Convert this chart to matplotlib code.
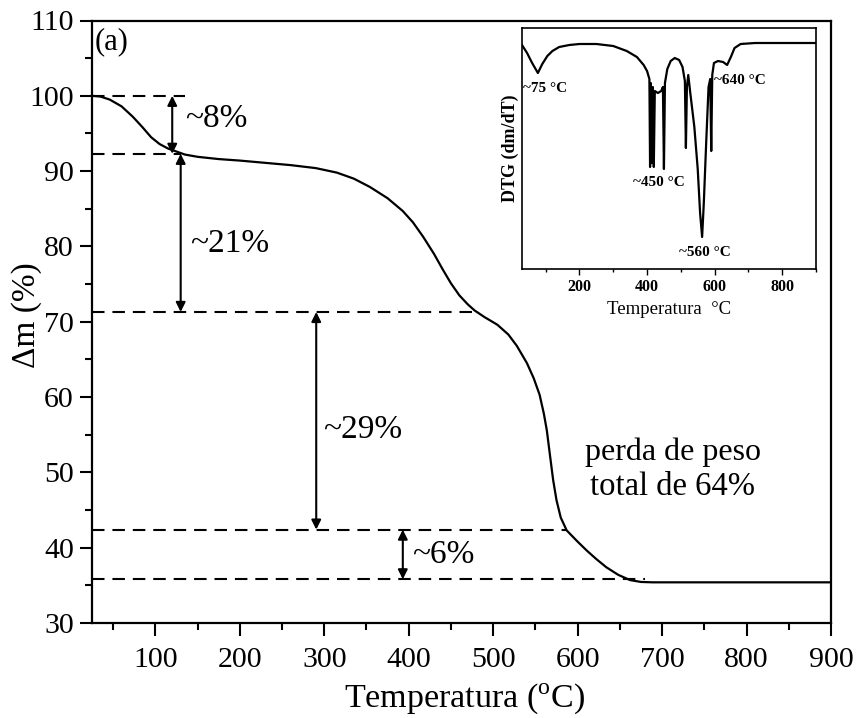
import matplotlib
matplotlib.use("Agg")
import matplotlib.pyplot as plt
from matplotlib.ticker import MultipleLocator

plt.rcParams['font.family'] = ['Liberation Serif', 'DejaVu Serif']
plt.rcParams['mathtext.fontset'] = 'custom'
plt.rcParams['mathtext.rm'] = 'Liberation Serif'

# Main TG curve (Temperature in °C, mass %)
tg_temp = [25, 35, 46, 60, 73.5, 85, 95, 105, 115, 125, 135, 150, 175, 200, 230, 260, 290, 315,
           335, 354, 375, 393, 405, 417, 430, 440, 450, 460, 470, 478, 490, 505, 518, 528,
           540, 548, 555, 560, 563.5, 567, 571, 575, 580, 587, 600, 611, 622, 634, 648, 662,
           675, 689, 750, 800, 900]
tg_mass = [100, 99.9, 99.5, 98.6, 97.2, 95.8, 94.5, 93.6, 93.0, 92.6, 92.2, 91.9, 91.6, 91.4,
           91.1, 90.8, 90.4, 89.8, 89.0, 87.9, 86.4, 84.7, 83.2, 81.3, 79.0, 77.0, 75.1, 73.5,
           72.3, 71.5, 70.6, 69.6, 68.3, 66.8, 64.5, 62.5, 60.3, 57.8, 55.6, 52.5, 49.0, 46.3,
           44.0, 42.3, 40.8, 39.6, 38.5, 37.4, 36.4, 35.7, 35.45, 35.4, 35.4, 35.4, 35.4]

# Dashed reference levels and where each dashed line ends
levels = [100.0, 92.3, 71.3, 42.4, 35.8]
level_ends = [135, 130, 481, 587, 680]

# Double arrows
arrow_x = [120, 130, 290.5, 393]
arrow_top = [100.0, 92.3, 71.3, 42.4]
arrow_bot = [92.3, 71.3, 42.4, 35.8]
arrow_labels = ['~8%', '~21%', '~29%', '~6%']
label_x = [135, 141, 298, 403.5]
label_y = [95.9, 79.3, 54.6, 38.0]

# Inset DTG curve (arbitrary units)
dtg_temp = [30, 45, 60, 77, 90, 105, 120, 140, 170, 200, 250, 300, 340, 370, 390, 400, 407,
            409, 411, 414, 417, 420, 423, 432, 442, 447, 450, 453, 460, 470, 482, 495, 505,
            512, 515, 518, 522, 528, 540, 550, 557, 563, 568, 575, 582, 587, 590, 593, 598,
            610, 625, 637, 648, 659, 677, 720, 800, 900]
dtg_val = [-0.1, -0.5, -1.0, -1.5, -1.05, -0.65, -0.4, -0.2, -0.1, -0.05, -0.05, -0.15, -0.4,
           -0.7, -1.1, -1.4, -1.8, -6.2, -2.0, -6.0, -2.2, -6.2, -2.4, -2.5, -2.4, -2.2, -6.3,
           -2.0, -1.3, -0.9, -0.75, -0.85, -1.2, -1.9, -5.25, -2.2, -1.6, -2.5, -4.2, -6.3,
           -8.5, -9.7, -8.0, -5.0, -2.2, -1.8, -5.4, -1.6, -1.0, -0.9, -0.95, -1.1, -0.7,
           -0.25, -0.05, 0.0, 0.0, 0.0]
peak_labels = ['~75 °C', '~450 °C', '~560 °C', '~640 °C']
peak_x = [33, 436, 570, 599]
peak_y = [-2.25, -6.95, -10.5, -1.85]
peak_ha = ['left', 'center', 'center', 'left']

W, H = 858, 718
fig = plt.figure(figsize=(W / 100, H / 100), dpi=100)
ax = fig.add_axes([92 / W, 1 - 623 / H, (831 - 92) / W, (623 - 20.5) / H])

ax.plot(tg_temp, tg_mass, color='black', lw=1.6, zorder=3)

for lev, xe in zip(levels, level_ends):
    ax.plot([25, xe], [lev, lev], color='black', lw=1.5, dashes=(6, 3.8), zorder=2)

for x, yt, yb in zip(arrow_x, arrow_top, arrow_bot):
    ax.annotate('', xy=(x, yb), xytext=(x, yt),
                arrowprops=dict(arrowstyle='<|-|>', color='black', lw=1.5,
                                mutation_scale=14, shrinkA=0, shrinkB=0))
for t, lx, ly in zip(arrow_labels, label_x, label_y):
    ax.text(lx, ly, t, fontsize=24, va='baseline', ha='left')

ax.text(712.6, 51.66, 'perda de peso', fontsize=23, ha='center', va='baseline')
ax.text(712.6, 47.0, 'total de 64%', fontsize=23.5, ha='center', va='baseline')
ax.text(28.6, 106.2, '(a)', fontsize=22, ha='left', va='baseline')

ax.set_xlim(25, 900)
ax.set_ylim(30, 110)
ax.xaxis.set_major_locator(MultipleLocator(100))
ax.xaxis.set_minor_locator(MultipleLocator(50))
ax.yaxis.set_major_locator(MultipleLocator(10))
ax.yaxis.set_minor_locator(MultipleLocator(5))
ax.tick_params(which='both', direction='out', top=False, right=False, labelsize=21.5, width=1.5)
ax.tick_params(which='major', length=9)
ax.tick_params(which='minor', length=5)
ax.tick_params(axis='x', which='major', pad=8)
ax.tick_params(axis='y', which='major', pad=4)
for s in ax.spines.values():
    s.set_linewidth(1.6)

fig.text(465 / W, 1 - 707 / H, 'Temperatura ($^{\\rm o}$C)', fontsize=24.5,
         ha='center', va='baseline')
fig.text(27 / W, 1 - 315 / H, 'Δm (%)', fontsize=24, rotation=90,
         ha='center', va='center')

# inset
ins = fig.add_axes([522 / W, 1 - 269 / H, (816 - 522) / W, (269 - 28) / H])
ins.plot(dtg_temp, dtg_val, color='black', lw=1.6)
for t, px, py, ha in zip(peak_labels, peak_x, peak_y, peak_ha):
    ins.text(px, py, t, fontsize=11, fontweight='bold', ha=ha, va='center')
ins.set_xlim(30, 900)
ins.set_ylim(-11.3, 0.75)
ins.set_yticks([])
ins.xaxis.set_major_locator(MultipleLocator(200))
ins.xaxis.set_minor_locator(MultipleLocator(100))
ins.tick_params(which='both', direction='out', top=False, labelsize=11.5, width=1)
ins.tick_params(which='major', length=4)
ins.tick_params(which='minor', length=2.5)
for lbl in ins.get_xticklabels():
    lbl.set_fontweight('bold')
for s in ins.spines.values():
    s.set_linewidth(1.2)
ins.set_xlabel('Temperatura  °C', fontsize=13.5, labelpad=4)
ins.set_ylabel('DTG (dm/dT)', fontsize=13, fontweight='bold', labelpad=2)

fig.savefig('out.png', dpi=100)
